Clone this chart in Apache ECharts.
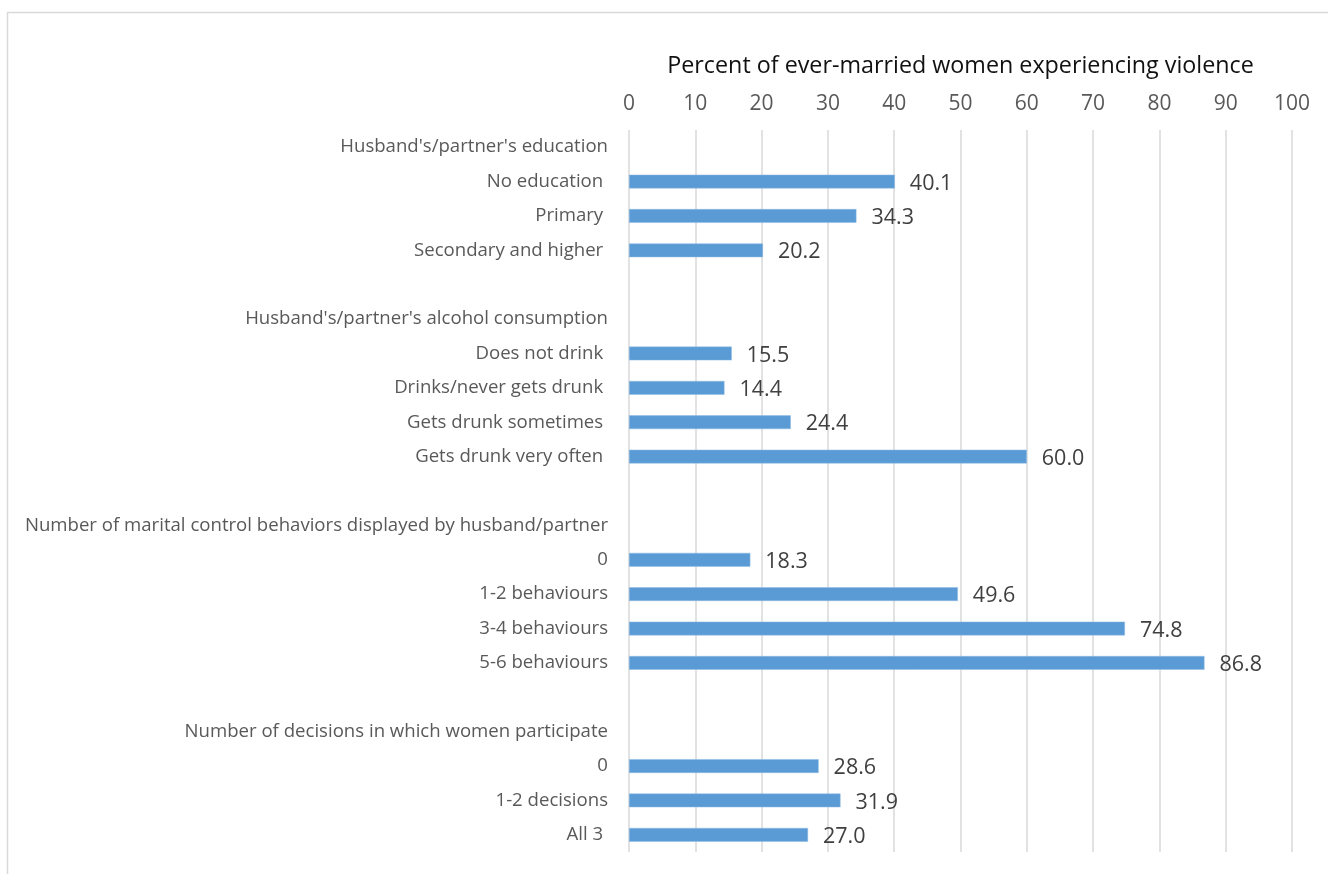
<!DOCTYPE html>
<html>
<head>
<meta charset="utf-8">
<script src="https://cdn.jsdelivr.net/npm/echarts@6/dist/echarts.min.js"></script>
<style>
  html, body { margin: 0; padding: 0; background: #ffffff; }
  #chart { width: 1328px; height: 874px; }
</style>
</head>
<body>
<div id="chart"></div>
<script>
// ---- Data ----
const axisTitle = "Percent of ever-married women experiencing violence";
const xTicks = [0, 10, 20, 30, 40, 50, 60, 70, 80, 90, 100];

const educationHeader = "Husband's/partner's education";
const educationLabels = ["No education ", "Primary ", "Secondary and higher "];
const educationValues = [40.1, 34.3, 20.2];

const alcoholHeader = "Husband's/partner's alcohol consumption";
const alcoholLabels = ["Does not drink ", "Drinks/never gets drunk ", "Gets drunk sometimes ", "Gets drunk very often "];
const alcoholValues = [15.5, 14.4, 24.4, 60.0];

const controlHeader = "Number of marital control behaviors displayed by husband/partner";
const controlLabels = ["0", "1-2 behaviours", "3-4 behaviours", "5-6 behaviours"];
const controlValues = [18.3, 49.6, 74.8, 86.8];

const decisionHeader = "Number of decisions in which women participate";
const decisionLabels = ["0", "1-2 decisions", "All 3 "];
const decisionValues = [28.6, 31.9, 27.0];

// ---- Build category rows (header rows and blank spacer rows carry no bar) ----
const groups = [
  { header: educationHeader, labels: educationLabels, values: educationValues },
  { header: alcoholHeader, labels: alcoholLabels, values: alcoholValues },
  { header: controlHeader, labels: controlLabels, values: controlValues },
  { header: decisionHeader, labels: decisionLabels, values: decisionValues }
];
const categories = [];
const barData = [];
groups.forEach((g, gi) => {
  if (gi > 0) { categories.push(""); barData.push(null); }
  categories.push(g.header); barData.push(null);
  g.labels.forEach((l, i) => { categories.push(l); barData.push(g.values[i]); });
});

const chart = echarts.init(document.getElementById('chart'), null, { renderer: 'canvas' });
const FONT = "'Open Sans', 'Noto Sans', sans-serif";

chart.setOption({
  animation: false,
  backgroundColor: '#ffffff',
  graphic: [{
    type: 'rect',
    shape: { x: 7.5, y: 12.5, width: 1400, height: 900 },
    style: { fill: 'none', stroke: '#d9d9d9', lineWidth: 1.5 },
    silent: true
  }],
  grid: { left: 629, right: 36, top: 130, bottom: 22, containLabel: false },
  xAxis: {
    type: 'value',
    position: 'top',
    min: xTicks[0],
    max: xTicks[xTicks.length - 1],
    interval: xTicks[1] - xTicks[0],
    name: axisTitle,
    nameLocation: 'middle',
    nameGap: 52,
    nameTextStyle: { fontFamily: FONT, fontSize: 23.3, color: '#111111' },
    axisLine: { show: false },
    axisTick: { show: false },
    axisLabel: { fontFamily: FONT, fontSize: 21, color: '#595959', margin: 15 },
    splitLine: { show: true, lineStyle: { color: '#d9d9d9', width: 1.5 } }
  },
  yAxis: {
    type: 'category',
    inverse: true,
    data: categories,
    axisLine: { show: false },
    axisTick: { show: false },
    splitLine: { show: false },
    axisLabel: {
      interval: 0,
      fontFamily: FONT,
      fontSize: 18.6,
      color: '#595959',
      margin: 21,
      padding: [4, 0, 0, 0],
      formatter: (v, idx) => categories[idx]
    }
  },
  series: [{
    type: 'bar',
    data: barData,
    barWidth: '40%',
    itemStyle: { color: '#5b9bd5', borderColor: '#8fbbe3', borderWidth: 0.5 },
    label: {
      show: true,
      position: 'right',
      distance: 15,
      offset: [0, 2],
      fontFamily: FONT,
      fontSize: 21.5,
      color: '#404040',
      formatter: p => (p.value == null ? '' : Number(p.value).toFixed(1))
    }
  }]
});
</script>
</body>
</html>
